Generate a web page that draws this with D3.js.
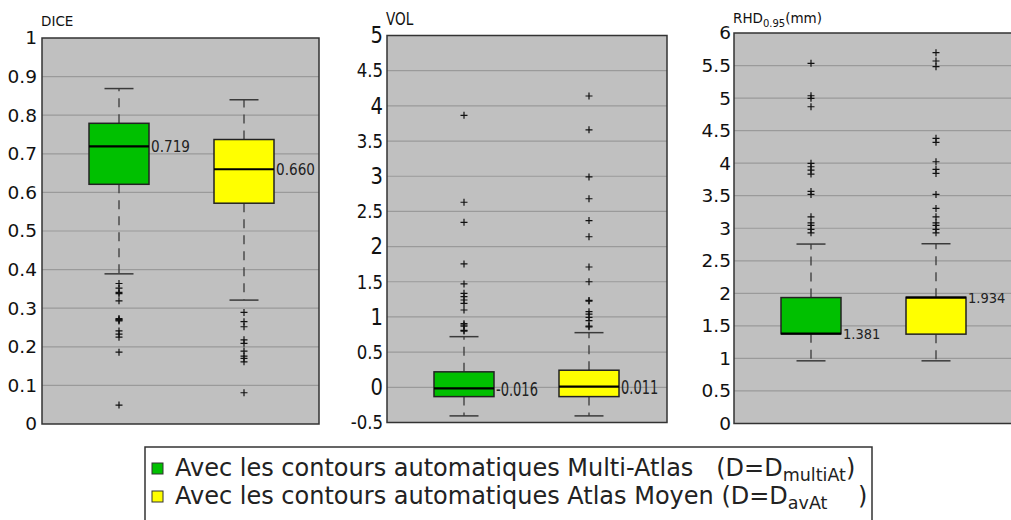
<!DOCTYPE html>
<html>
<head>
<meta charset="utf-8">
<script src="https://cdn.jsdelivr.net/npm/d3@7"></script>
<style>
  body { margin: 0; background: #fff; }
  svg { display: block; font-family: "DejaVu Sans", sans-serif; }
</style>
</head>
<body>
<svg id="chart" width="1011" height="520"></svg>
<script>
// two series: multi-atlas (green) and average atlas (yellow)
const groups = ["multiAt", "avAt"];
const groupColors = ["#00c000", "#ffff00"];

// DICE
const diceTicks = [0, 0.1, 0.2, 0.3, 0.4, 0.5, 0.6, 0.7, 0.8, 0.9, 1];
const diceLow = [0.389, 0.321];
const diceQ1 = [0.621, 0.572];
const diceMedian = [0.719, 0.660];
const diceQ3 = [0.779, 0.737];
const diceHigh = [0.869, 0.840];
const diceOutMulti = [0.364, 0.352, 0.341, 0.338, 0.319, 0.273, 0.271, 0.269, 0.267, 0.241, 0.233, 0.225, 0.186, 0.049];
const diceOutAvAt = [0.289, 0.265, 0.252, 0.218, 0.209, 0.189, 0.176, 0.170, 0.161, 0.081];

// VOL
const volTicks = [-0.5, 0, 0.5, 1, 1.5, 2, 2.5, 3, 3.5, 4, 4.5, 5];
const volLow = [-0.406, -0.406];
const volQ1 = [-0.132, -0.132];
const volMedian = [-0.016, 0.011];
const volQ3 = [0.220, 0.243];
const volHigh = [0.720, 0.777];
const volOutMulti = [3.865, 2.630, 2.345, 1.753, 1.469, 1.336, 1.288, 1.241, 1.194, 1.099, 0.905, 0.886, 0.870, 0.810, 0.800];
const volOutAvAt = [4.140, 3.660, 2.990, 2.680, 2.370, 2.140, 1.710, 1.500, 1.235, 1.225, 1.075, 1.040, 0.995, 0.947, 0.870, 0.860];

// RHD 0.95
const rhdTicks = [0, 0.5, 1, 1.5, 2, 2.5, 3, 3.5, 4, 4.5, 5, 5.5, 6];
const rhdLow = [0.963, 0.963];
const rhdQ1 = [1.378, 1.373];
const rhdMedian = [1.381, 1.934];
const rhdQ3 = [1.935, 1.940];
const rhdHigh = [2.757, 2.762];
const rhdOutMulti = [5.534, 5.036, 4.996, 4.867, 3.997, 3.945, 3.894, 3.832, 3.566, 3.520, 3.176, 3.084, 3.044, 2.982, 2.930];
const rhdOutAvAt = [5.697, 5.570, 5.482, 4.381, 4.320, 4.022, 3.905, 3.843, 3.520, 3.305, 3.176, 3.084, 3.044, 2.982, 2.930];

const svg = d3.select("#chart");

// shrink a text horizontally (the reference is rendered with narrow glyphs in places)
function squeeze(sel, f) {
  sel.each(function() {
    const w = this.getComputedTextLength();
    d3.select(this).attr("textLength", w * f).attr("lengthAdjust", "spacingAndGlyphs");
  });
}

function drawPanel(p) {
  const g = svg.append("g");
  const y = d3.scaleLinear().domain([p.ticks[0], p.ticks[p.ticks.length - 1]]).range([p.bottom, p.top]);
  const x = d3.scalePoint().domain(groups).range([p.left + 77, p.left + 202]);
  const boxW = 60, capW = 29;

  g.append("rect")
    .attr("x", p.left).attr("y", p.top)
    .attr("width", p.right - p.left).attr("height", p.bottom - p.top)
    .attr("fill", "#c0c0c0");

  // grid
  g.selectAll(".grid").data(p.ticks.slice(1, -1)).enter().append("line")
    .attr("x1", p.left).attr("x2", p.right)
    .attr("y1", d => y(d)).attr("y2", d => y(d))
    .attr("stroke", "#9a9a9a").attr("stroke-width", 1.2);

  g.append("rect")
    .attr("x", p.left).attr("y", p.top)
    .attr("width", p.right - p.left).attr("height", p.bottom - p.top)
    .attr("fill", "none").attr("stroke", "#333").attr("stroke-width", 1.5);

  // axis
  const axis = g.append("g")
    .attr("transform", `translate(${p.left},0)`)
    .call(d3.axisLeft(y).tickValues(p.ticks).tickSize(0).tickPadding(p.pad)
      .tickFormat(d => String(+d.toFixed(2))));
  axis.select(".domain").remove();
  axis.selectAll("text")
    .attr("fill", "#111")
    .style("font-family", "DejaVu Sans")
    .style("font-size", d => (Number.isInteger(d) ? p.intFont : p.tickFont) + "px");
  if (p.tickSqueeze) squeeze(axis.selectAll("text"), p.tickSqueeze);

  // title
  const t = g.append("text")
    .attr("x", p.left - 1).attr("y", p.titleY)
    .attr("fill", "#111")
    .style("font-size", p.titleFont + "px");
  t.append("tspan").text(p.title);
  if (p.titleSub) {
    t.append("tspan").attr("dy", 4).style("font-size", "10px").text(p.titleSub);
    t.append("tspan").attr("dy", -4).text(p.titleTail);
  }
  if (p.titleSqueeze) squeeze(t, p.titleSqueeze);

  groups.forEach((grp, i) => {
    const cx = x(grp);
    const dash = "9,7";
    // whiskers
    g.append("line")
      .attr("x1", cx).attr("x2", cx)
      .attr("y1", y(p.q3[i])).attr("y2", y(p.high[i]))
      .attr("stroke", "#3a3a3a").attr("stroke-width", 1.3).attr("stroke-dasharray", dash);
    g.append("line")
      .attr("x1", cx).attr("x2", cx)
      .attr("y1", y(p.q1[i])).attr("y2", y(p.low[i]))
      .attr("stroke", "#3a3a3a").attr("stroke-width", 1.3).attr("stroke-dasharray", dash);
    [p.high[i], p.low[i]].forEach(v => {
      g.append("line")
        .attr("x1", cx - capW / 2).attr("x2", cx + capW / 2)
        .attr("y1", y(v)).attr("y2", y(v))
        .attr("stroke", "#3a3a3a").attr("stroke-width", 1.5);
    });
    // box
    g.append("rect")
      .attr("x", cx - boxW / 2).attr("y", y(p.q3[i]))
      .attr("width", boxW).attr("height", y(p.q1[i]) - y(p.q3[i]))
      .attr("fill", groupColors[i]).attr("stroke", "#222").attr("stroke-width", 1.5);
    g.append("line")
      .attr("x1", cx - boxW / 2).attr("x2", cx + boxW / 2)
      .attr("y1", y(p.median[i])).attr("y2", y(p.median[i]))
      .attr("stroke", "#000").attr("stroke-width", 2.2);
    const lab = g.append("text")
      .attr("x", cx + boxW / 2 + 2).attr("y", y(p.median[i]))
      .attr("dy", "0.36em")
      .attr("fill", "#222")
      .style("font-size", p.medFont + "px")
      .text(p.median[i].toFixed(3));
    squeeze(lab, p.medSqueeze);
    // outliers
    g.selectAll(null).data(p.out[i]).enter().append("path")
      .attr("d", d => `M${cx - 3.5},${y(d)}h7M${cx},${y(d) - 3.5}v7`)
      .attr("stroke", "#111").attr("stroke-width", 1.2).attr("fill", "none");
  });
}

drawPanel({
  left: 42, right: 319, top: 38, bottom: 424,
  ticks: diceTicks, low: diceLow, q1: diceQ1, median: diceMedian, q3: diceQ3, high: diceHigh,
  out: [diceOutMulti, diceOutAvAt],
  tickFont: 18.5, intFont: 18.5, pad: 5,
  title: "DICE", titleY: 26, titleFont: 13.5,
  medFont: 16, medSqueeze: 0.85
});

drawPanel({
  left: 387, right: 667, top: 35.5, bottom: 422.5,
  ticks: volTicks, low: volLow, q1: volQ1, median: volMedian, q3: volQ3, high: volHigh,
  out: [volOutMulti, volOutAvAt],
  tickFont: 19.5, intFont: 23, pad: 4, tickSqueeze: 0.85,
  title: "VOL", titleY: 25, titleFont: 17, titleSqueeze: 0.8,
  medFont: 20, medSqueeze: 0.65
});

drawPanel({
  left: 734, right: 1013, top: 33, bottom: 423.5,
  ticks: rhdTicks, low: rhdLow, q1: rhdQ1, median: rhdMedian, q3: rhdQ3, high: rhdHigh,
  out: [rhdOutMulti, rhdOutAvAt],
  tickFont: 18.5, intFont: 18.5, pad: 3,
  title: "RHD", titleSub: "0.95", titleTail: "(mm)", titleY: 23, titleFont: 13.5,
  medFont: 14.5, medSqueeze: 0.9
});

// legend
const legend = svg.append("g");
legend.append("rect")
  .attr("x", 145).attr("y", 447).attr("width", 727).attr("height", 80)
  .attr("fill", "#fff").attr("stroke", "#333").attr("stroke-width", 1.5);

const legendLines = [
  { main: "Avec les contours automatiques Multi-Atlas   (D=D", sub: "multiAt", tail: ")" },
  { main: "Avec les contours automatiques Atlas Moyen (D=D", sub: "avAt", tail: "    )" }
];
legendLines.forEach((l, i) => {
  const yb = 476 + i * 28;
  legend.append("rect")
    .attr("x", 152).attr("y", yb - 13).attr("width", 11).attr("height", 11)
    .attr("fill", groupColors[i]).attr("stroke", "#333").attr("stroke-width", 1);
  const t = legend.append("text")
    .attr("x", 175).attr("y", yb)
    .attr("fill", "#222")
    .style("font-size", "24px")
    .style("white-space", "pre");
  t.append("tspan").text(l.main);
  t.append("tspan").attr("dy", 5).style("font-size", "17.5px").text(l.sub);
  t.append("tspan").attr("dy", -5).text(l.tail);
});
</script>
</body>
</html>
